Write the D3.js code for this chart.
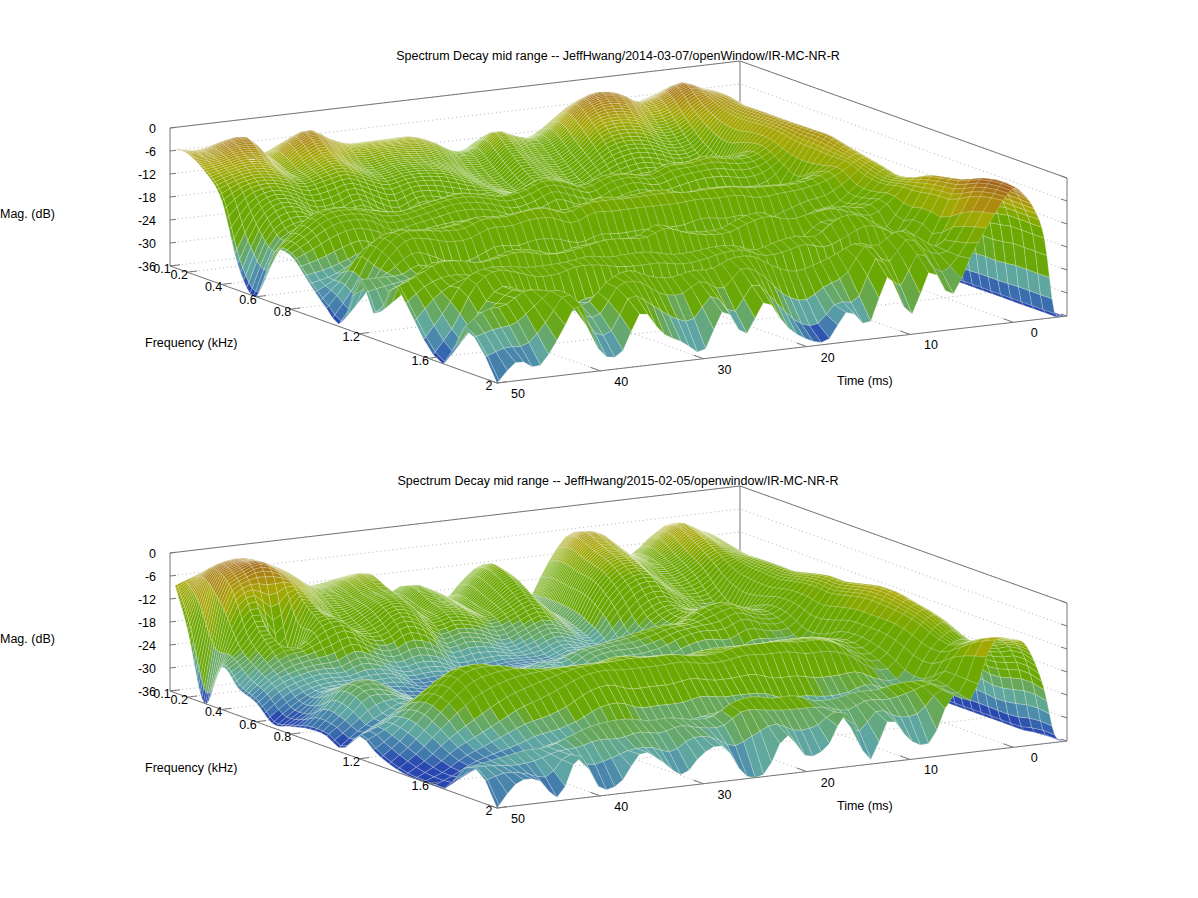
<!DOCTYPE html>
<html><head><meta charset="utf-8">
<script src="https://cdn.jsdelivr.net/npm/d3@7"></script>
<style>html,body{margin:0;background:#fff}svg{display:block}text{font-family:"Liberation Sans",Arial,sans-serif;font-size:12.5px;fill:#000}</style>
</head><body><svg id="c" width="1198" height="898"></svg>
<script>
const freqs=[0.13,0.2,0.3,0.4,0.5,0.6,0.7,0.8,0.9,1.0,1.1,1.2,1.3,1.4,1.5,1.6,1.7,1.8,1.9,2.0];
const times=[-5,-4,-3,-2,-1,0,2,4,6,8,10,12,14,16,18,20,22,24,26,28,30,32,34,36,38,40,42,44,46,48,50];
const freqTicks=[0.1,0.2,0.4,0.6,0.8,1.2,1.6,2];
const timeTicks=[50,40,30,20,10,0];
const magTicks=[0,-6,-12,-18,-24,-30,-36];
// rows: one per frequency; values listed from t=50 down to t=-5
const topRows=[
[-5,-6,-5,-5,-9,-7,-5,-7,-9,-9,-9,-9,-11,-14,-14,-11,-12,-13,-10,-6,-4,-5,-7,-6,-4,-5,-6,-9,-16,-35,-36],
[-5,-5,-3,-3,-9,-5,-3,-6,-8,-8,-8,-8,-10,-13,-13,-9,-11,-12,-9,-4,-2,-3,-6,-5,-2,-4,-5,-8,-16,-35,-36],
[-8,-7,-6,-7,-11,-9,-7,-10,-12,-11,-11,-12,-14,-17,-17,-13,-15,-16,-13,-8,-7,-8,-11,-10,-6,-4,-5,-8,-16,-35,-36],
[-14,-11,-10,-11,-13,-12,-11,-13,-15,-14,-14,-15,-17,-19,-20,-17,-18,-20,-17,-14,-13,-14,-16,-15,-9,-5,-6,-9,-16,-35,-36],
[-30,-19,-15,-16,-20,-20,-18,-21,-23,-20,-21,-23,-22,-19,-20,-19,-19,-21,-21,-20,-19,-20,-21,-18,-10,-5,-6,-9,-16,-35,-36],
[-36,-24,-20,-19,-22,-22,-24,-25,-24,-20,-22,-24,-21,-17,-19,-20,-18,-20,-21,-18,-17,-16,-17,-15,-9,-5,-6,-9,-16,-35,-36],
[-23,-18,-14,-13,-14,-15,-16,-15,-14,-13,-14,-15,-14,-12,-13,-15,-13,-13,-14,-12,-12,-11,-12,-12,-9,-5,-6,-9,-16,-35,-36],
[-22,-19,-16,-15,-16,-19,-18,-17,-16,-16,-17,-19,-18,-16,-18,-19,-17,-16,-17,-16,-15,-15,-16,-15,-11,-5,-6,-9,-16,-35,-36],
[-27,-26,-24,-22,-25,-26,-23,-22,-24,-24,-23,-25,-25,-24,-25,-24,-25,-25,-23,-25,-24,-23,-23,-21,-12,-5,-6,-9,-16,-35,-36],
[-32,-26,-18,-15,-16,-16,-15,-14,-15,-15,-14,-15,-15,-13,-14,-13,-13,-15,-14,-15,-15,-15,-15,-14,-11,-6,-7,-10,-17,-35,-36],
[-35,-28,-19,-14,-14,-15,-15,-13,-13,-12,-12,-14,-12,-12,-12,-12,-12,-12,-12,-12,-13,-13,-13,-12,-10,-7,-8,-11,-17,-35,-36],
[-22,-22,-22,-20,-23,-26,-24,-22,-23,-22,-23,-24,-23,-23,-23,-23,-23,-21,-22,-22,-24,-21,-18,-17,-13,-8,-9,-12,-18,-35,-36],
[-30,-26,-22,-21,-24,-25,-22,-22,-24,-23,-24,-24,-23,-20,-23,-23,-23,-20,-20,-23,-23,-19,-16,-16,-13,-9,-10,-13,-19,-35,-36],
[-20,-18,-15,-15,-16,-15,-14,-15,-16,-15,-14,-14,-14,-12,-14,-15,-15,-13,-12,-14,-14,-13,-14,-15,-12,-8,-9,-12,-18,-35,-36],
[-26,-21,-19,-19,-21,-22,-22,-24,-21,-21,-20,-21,-23,-22,-23,-24,-25,-23,-22,-21,-16,-16,-19,-21,-14,-6,-7,-10,-17,-35,-36],
[-33,-26,-17,-14,-14,-15,-15,-14,-14,-15,-15,-15,-16,-16,-15,-15,-17,-16,-15,-16,-13,-12,-15,-18,-13,-5,-6,-9,-16,-35,-36],
[-36,-30,-22,-18,-22,-26,-26,-24,-24,-25,-26,-26,-27,-25,-24,-24,-26,-27,-25,-26,-26,-21,-20,-23,-14,-4,-5,-8,-16,-35,-36],
[-25,-21,-20,-17,-18,-22,-22,-17,-15,-17,-18,-17,-17,-15,-15,-18,-20,-19,-17,-15,-16,-13,-15,-18,-11,-2,-3,-7,-15,-35,-36],
[-28,-27,-26,-21,-16,-24,-26,-18,-19,-23,-24,-20,-24,-18,-22,-28,-30,-26,-24,-15,-22,-15,-20,-18,-9,-1,-2,-7,-15,-35,-36],
[-36,-31,-33,-26,-18,-31,-32,-22,-28,-31,-34,-24,-31,-23,-30,-34,-35,-28,-32,-20,-31,-20,-27,-17,-8,-1,-3,-7,-15,-35,-36]];
const bottomRows=[
[-8,-6,-4,-3,-5,-8,-12,-12,-11,-11,-17,-15,-17,-20,-15,-12,-18,-23,-14,-7,-7,-12,-14,-10,-7,-9,-10,-13,-22,-35,-36],
[-18,-5,-2,-2,-4,-7,-11,-12,-10,-10,-18,-14,-16,-19,-14,-11,-18,-23,-13,-6,-6,-11,-13,-9,-6,-9,-10,-13,-22,-35,-36],
[-36,-10,-5,-4,-6,-10,-14,-14,-12,-12,-19,-16,-17,-20,-16,-13,-19,-23,-14,-8,-8,-12,-14,-12,-8,-10,-11,-14,-22,-35,-36],
[-25,-20,-15,-26,-12,-14,-18,-16,-13,-14,-19,-18,-19,-21,-19,-17,-21,-24,-15,-10,-10,-15,-17,-15,-11,-11,-12,-15,-23,-35,-36],
[-29,-24,-20,-20,-16,-15,-19,-20,-17,-19,-24,-23,-24,-26,-24,-22,-24,-26,-19,-14,-13,-17,-20,-20,-14,-11,-12,-15,-23,-35,-36],
[-31,-27,-25,-24,-24,-22,-24,-26,-25,-26,-29,-29,-28,-28,-28,-26,-27,-28,-25,-20,-18,-20,-22,-23,-15,-11,-12,-15,-23,-35,-36],
[-35,-31,-28,-27,-27,-27,-27,-29,-29,-29,-31,-30,-28,-28,-27,-26,-25,-25,-24,-22,-19,-18,-19,-20,-15,-11,-12,-15,-23,-35,-36],
[-34,-31,-26,-25,-26,-28,-30,-30,-30,-30,-32,-28,-25,-25,-23,-22,-21,-20,-19,-19,-16,-15,-17,-18,-14,-10,-11,-14,-22,-35,-36],
[-33,-28,-23,-22,-25,-28,-31,-30,-30,-30,-31,-26,-25,-27,-24,-23,-23,-22,-20,-19,-19,-17,-19,-19,-14,-9,-10,-13,-22,-35,-36],
[-33,-29,-24,-24,-26,-28,-30,-30,-29,-30,-31,-28,-29,-28,-28,-28,-27,-27,-25,-24,-25,-23,-23,-22,-15,-9,-10,-13,-22,-35,-36],
[-35,-31,-28,-25,-24,-24,-26,-27,-26,-27,-28,-27,-27,-26,-26,-27,-27,-27,-26,-25,-25,-25,-25,-22,-14,-8,-9,-12,-21,-35,-36],
[-30,-28,-25,-21,-17,-16,-18,-20,-20,-21,-21,-20,-20,-20,-20,-20,-20,-21,-20,-19,-19,-19,-20,-19,-13,-7,-8,-11,-21,-35,-36],
[-33,-29,-24,-19,-14,-13,-14,-16,-17,-17,-17,-16,-16,-17,-17,-17,-16,-17,-17,-16,-16,-16,-17,-18,-13,-7,-8,-11,-21,-35,-36],
[-35,-31,-26,-21,-17,-15,-14,-14,-14,-14,-14,-13,-14,-14,-15,-15,-14,-14,-14,-14,-14,-15,-18,-19,-13,-8,-9,-12,-21,-35,-36],
[-36,-33,-29,-26,-23,-20,-18,-16,-14,-13,-13,-13,-13,-13,-14,-14,-13,-13,-13,-14,-14,-16,-20,-21,-14,-9,-10,-13,-22,-35,-36],
[-36,-34,-31,-29,-27,-25,-24,-22,-19,-18,-20,-20,-20,-19,-20,-20,-20,-22,-22,-23,-23,-22,-24,-24,-16,-11,-12,-15,-22,-35,-36],
[-36,-33,-31,-30,-30,-28,-27,-26,-25,-25,-26,-26,-26,-25,-25,-25,-26,-27,-27,-27,-26,-24,-25,-24,-16,-13,-14,-16,-23,-35,-36],
[-29,-28,-27,-26,-26,-24,-22,-21,-21,-22,-22,-23,-23,-20,-19,-20,-20,-22,-22,-21,-21,-20,-20,-20,-13,-11,-12,-15,-22,-35,-36],
[-28,-28,-29,-29,-26,-27,-26,-26,-25,-26,-24,-25,-26,-23,-23,-24,-24,-23,-26,-23,-24,-23,-20,-21,-10,-9,-10,-13,-21,-34,-36],
[-36,-30,-30,-35,-25,-34,-33,-26,-29,-33,-28,-27,-35,-35,-26,-32,-30,-22,-35,-25,-31,-32,-21,-22,-8,-8,-9,-14,-22,-34,-36]];
const panels=[
 {title:"Spectrum Decay mid range -- JeffHwang/2014-03-07/openWindow/IR-MC-NR-R",rows:topRows,dy:0},
 {title:"Spectrum Decay mid range -- JeffHwang/2015-02-05/openwindow/IR-MC-NR-R",rows:bottomRows,dy:425}];
// projection scales
const fx=d3.scaleLinear([0.1,2],[170,497]), fy=d3.scaleLinear([0.1,2],[0,117]);
const tx=d3.scaleLinear([50,-5.2],[0,570]), ty=d3.scaleLinear([50,-5.2],[0,-67]);
const zy=d3.scaleLinear([-36,0],[266,128]);
const px=(f,t)=>fx(f)+tx(t), py=(f,t,z,o)=>o+zy(z)+fy(f)+ty(t);
const color=d3.scaleLinear([-36,-32,-31,-28,-27,-24.5,-23.5,-21,-20,-12,-9,-7,-4,-1.5,0],
 ["#2442b0","#2a4ab0","#3b70ae","#4c8bac","#5ea5a6","#60a89a","#65a870","#68a858","#69a808","#6ca800","#8ea902","#a8a805","#ad8a10","#a66a18","#a05a1a"]).clamp(true);
function smooth(xs,ys,x){ // Hermite curve through the read values (pm3d-style drawing refinement)
 let i=Math.min(xs.length-2,Math.max(0,d3.bisectRight(xs,x)-1));
 const h=xs[i+1]-xs[i],s=(x-xs[i])/h;
 const m=k=>k<=0?(ys[1]-ys[0])/(xs[1]-xs[0]):k>=xs.length-1?(ys[k]-ys[k-1])/(xs[k]-xs[k-1]):(ys[k+1]-ys[k-1])/(xs[k+1]-xs[k-1]);
 const s2=s*s,s3=s2*s;
 return (2*s3-3*s2+1)*ys[i]+(s3-2*s2+s)*h*m(i)+(-2*s3+3*s2)*ys[i+1]+(s3-s2)*h*m(i+1);
}
const drawF=d3.range(0,81).map(i=>0.13*Math.pow(2/0.13,i/80));
const drawT=d3.range(-5,1,.25).concat(d3.range(1,50.01,.8)).concat([50]);
const svg=d3.select("#c");
panels.forEach(p=>{
 const g=svg.append("g").attr("transform",`translate(0,${p.dy})`);
 const grid=[];
 magTicks.slice(0,-1).forEach(m=>{const y=zy(m);
  grid.push([[px(.1,50),y],[px(.1,-5.2),y+ty(-5.2)],[px(2,-5.2),y+ty(-5.2)+fy(2)]]);});
 freqTicks.forEach(f=>grid.push([[px(f,50),py(f,50,-36,0)],[px(f,-5.2),py(f,-5.2,-36,0)]]));
 timeTicks.forEach(t=>grid.push([[px(2,t),py(2,t,-36,0)],[px(.1,t),py(.1,t,-36,0)]]));
 const line=d3.line();
 g.selectAll("path.g").data(grid).join("path").attr("class","g").attr("d",line).attr("fill","none")
  .attr("stroke","#b4b4b4").attr("stroke-width",1).attr("stroke-dasharray","1,3");
 const B=[px(.1,-5.2),py(.1,-5.2,-36,0)],TT=[px(.1,-5.2),py(.1,-5.2,0,0)];
 const frame=[
  [[px(.1,50),py(.1,50,-36,0)],[px(.1,50),py(.1,50,0,0)],TT,[px(2,-5.2),py(2,-5.2,0,0)],[px(2,-5.2),py(2,-5.2,-36,0)]],
  [B,TT]];
 g.selectAll("path.fr").data(frame).join("path").attr("class","fr").attr("d",line).attr("fill","none").attr("stroke","#777");
 // surface
 const byT=p.rows.map(r=>{const asc=r.slice().reverse();return drawT.map(t=>smooth(times,asc,t));});
 const Z=drawF.map(f=>drawT.map((_,j)=>Math.max(-36,Math.min(0,smooth(freqs,byT.map(r=>r[j]),f)))));
 const cells=[];
 drawF.slice(0,-1).forEach((f,i)=>drawT.slice(0,-1).forEach((t,j)=>{
  const f2=drawF[i+1],t2=drawT[j+1];
  cells.push({pts:[[px(f,t),py(f,t,Z[i][j],0)],[px(f2,t),py(f2,t,Z[i+1][j],0)],[px(f2,t2),py(f2,t2,Z[i+1][j+1],0)],[px(f,t2),py(f,t2,Z[i][j+1],0)]],
   z:Math.max(Z[i][j],Z[i+1][j],Z[i+1][j+1],Z[i][j+1])});
 }));
 g.selectAll("path.c").data(cells).join("path").attr("class","c")
  .attr("d",d=>line(d.pts)+"Z").attr("fill",d=>color(d.z))
  .attr("stroke","rgba(238,244,228,.45)").attr("stroke-width",.55);
 g.append("path").attr("d",line([[px(.1,50),py(.1,50,-36,0)],[px(2,50),py(2,50,-36,0)],[px(2,-5.2),py(2,-5.2,-36,0)]])).attr("fill","none").attr("stroke","#777");
 const ticks=[];
 magTicks.forEach(m=>{const y=zy(m);ticks.push([[170,y],[176,y-.7]]);const yr=y+fy(2)+ty(-5.2);const xr=px(2,-5.2);ticks.push([[xr,yr],[xr-6,yr-2]]);});
 freqTicks.forEach(f=>{const x=px(f,50),y=py(f,50,-36,0);ticks.push([[x,y],[x+10,y-1.2]]);});
 timeTicks.forEach(t=>{const x=px(2,t),y=py(2,t,-36,0);ticks.push([[x,y],[x-10,y-3.6]]);});
 g.selectAll("path.t").data(ticks).join("path").attr("class","t").attr("d",line).attr("stroke","#777").attr("fill","none");
 g.selectAll("text.m").data(magTicks).join("text").attr("class","m").attr("x",156).attr("y",d=>zy(d)+5).attr("text-anchor","end").text(d=>d);
 g.selectAll("text.f").data(freqTicks).join("text").attr("class","f").attr("x",d=>px(d,50)-8).attr("y",d=>py(d,50,-36,0)+7).attr("text-anchor","middle").text(d=>d);
 g.selectAll("text.ti").data(timeTicks).join("text").attr("class","ti").attr("x",d=>px(2,d)+21).attr("y",d=>py(2,d,-36,0)+15).attr("text-anchor","middle").text(d=>d);
 g.append("text").attr("x",618).attr("y",60).attr("text-anchor","middle").text(p.title);
 g.append("text").attr("x",0).attr("y",218).text("Mag. (dB)");
 g.append("text").attr("x",145).attr("y",347).text("Frequency (kHz)");
 g.append("text").attr("x",837).attr("y",385).text("Time (ms)");
});
</script></body></html>
